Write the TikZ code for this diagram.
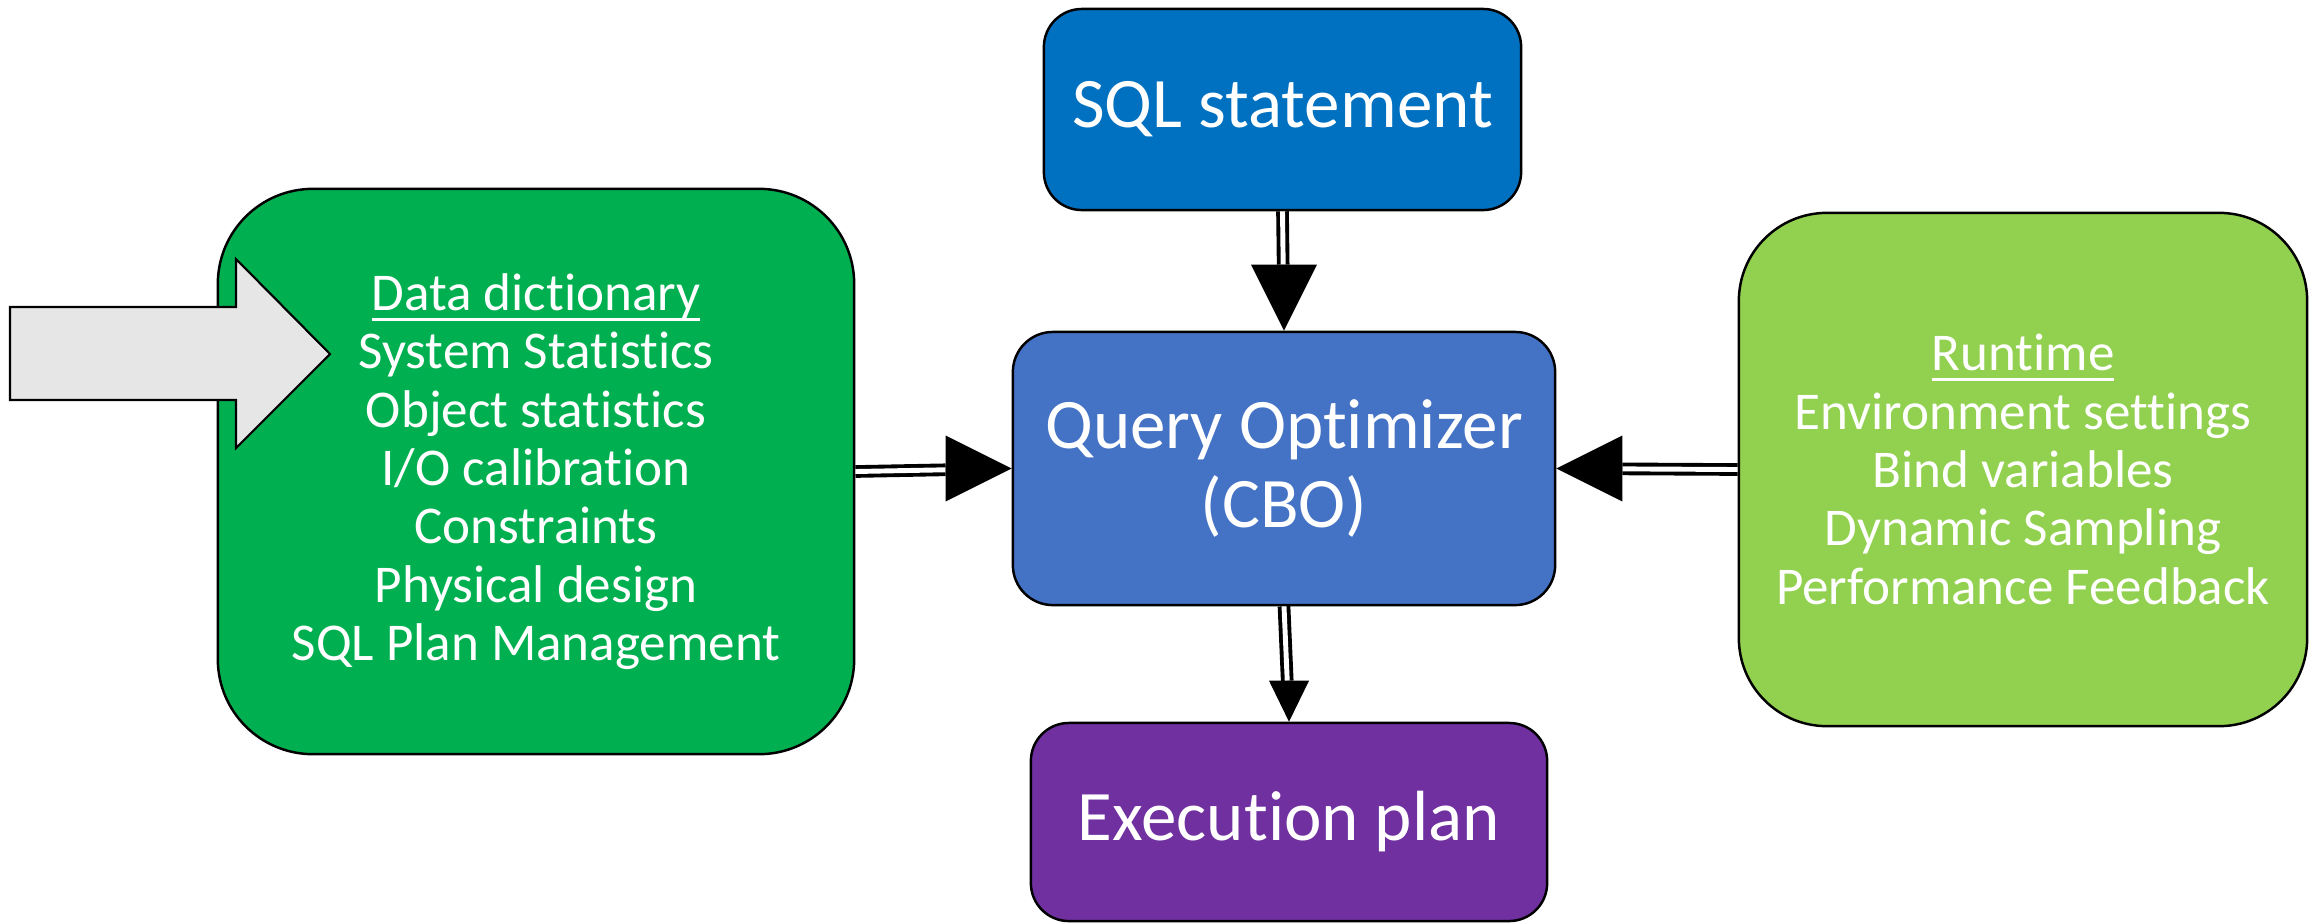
\documentclass[tikz,border=0pt]{standalone}
\usepackage{fontspec}
\setmainfont{Carlito}[Ligatures=NoCommon,RawFeature={-liga;-clig;-calt;-dlig}]
\usetikzlibrary{calc}
\definecolor{sqlblue}{HTML}{0070C0}
\definecolor{qoblue}{HTML}{4472C4}
\definecolor{execpurple}{HTML}{7030A0}
\definecolor{ddgreen}{HTML}{00B050}
\definecolor{rtgreen}{HTML}{92D050}
\definecolor{greyarrow}{HTML}{E6E6E6}
\newcommand\ulx[1]{\setbox0\hbox{#1}\rlap{\rule[-3pt]{\wd0}{0.85pt}}\box0}
\begin{document}
\begin{tikzpicture}[x=0.01cm,y=-0.01cm,
  box/.style={draw=black, line width=0.7pt, text=white, inner sep=0pt, align=center},
  big/.style={font=\fontsize{20.2}{22.2}\selectfont},
  small/.style={font=\fontsize{15.1}{16.6}\selectfont},
  dbl/.style={draw=black, double=white, line width=1.1pt, double distance=1.4pt},
  headfill/.style={fill=black},
]
\useasboundingbox (0,0) rectangle (2309,923);

\node[box, fill=ddgreen, minimum width=6.36cm, minimum height=5.65cm, rounded corners=0.95cm, small] (dd) at (536,471.5)
  {\ulx{Data dictionary}\\System Statistics\\Object statistics\\I/O calibration\\Constraints\\Physical design\\SQL Plan Management};
\node[box, fill=rtgreen, minimum width=5.68cm, minimum height=5.13cm, rounded corners=0.88cm, small] (rt) at (2023,469.5)
  {\ulx{Runtime}\\Environment settings\\Bind variables\\Dynamic Sampling\\Performance Feedback};
\node[box, fill=sqlblue, minimum width=4.77cm, minimum height=2.01cm, rounded corners=0.38cm, big] (sql) at (1282.5,109.5) {SQL statement};
\node[box, fill=qoblue, minimum width=5.42cm, minimum height=2.73cm, rounded corners=0.40cm, big] (qo) at (1284,468.5) {Query Optimizer\\(CBO)};
\node[box, fill=execpurple, minimum width=5.16cm, minimum height=1.98cm, rounded corners=0.38cm, big] (exec) at (1289,822) {Execution plan};

% grey input arrow
\draw[fill=greyarrow, line width=0.6pt, line join=miter]
  (10,307) -- (236,307) -- (236,259) -- (330,354) -- (236,448) -- (236,400) -- (10,400) -- cycle;

% connectors
\draw[dbl, shorten >=0.66cm] (sql.south) -- (qo.north);
\fill[headfill] (qo.north) -- ++(-33,-66) -- ++(66,0) -- cycle;

\draw[dbl, shorten >=0.66cm] (dd.east) -- (qo.west);
\fill[headfill] (qo.west) -- ++(-66,-33) -- ++(0,66) -- cycle;

\draw[dbl, shorten >=0.66cm] (rt.west) -- (qo.east);
\fill[headfill] (qo.east) -- ++(66,-33) -- ++(0,66) -- cycle;

\draw[dbl, shorten >=0.41cm] (qo.south) -- (exec.north);
\fill[headfill] (exec.north) -- ++(-20,-41) -- ++(40,0) -- cycle;
\end{tikzpicture}
\end{document}
